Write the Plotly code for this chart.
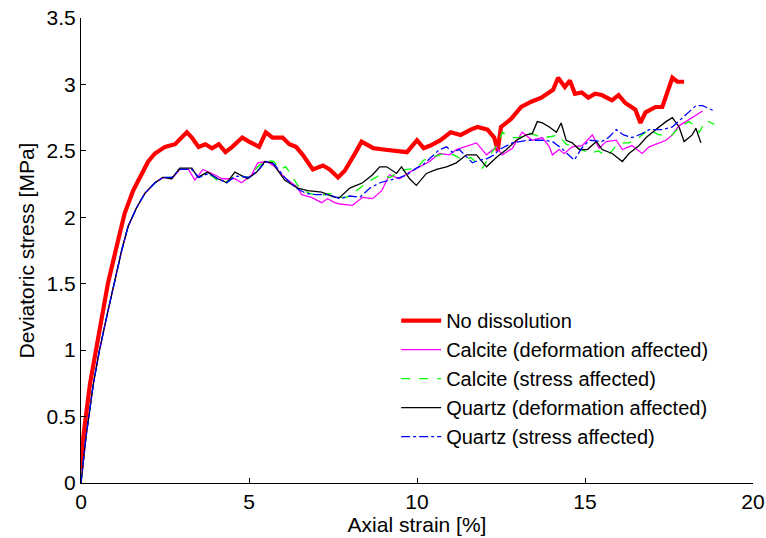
import plotly.graph_objects as go

# ---------------- data ----------------
red_x = [0, 0.07, 0.27, 0.45, 0.61, 0.8, 1.06, 1.3, 1.55, 1.81, 2.0, 2.2, 2.5, 2.8, 3.0, 3.15, 3.3, 3.5,
         3.7, 3.9, 4.1, 4.3, 4.5, 4.8, 5.0, 5.3, 5.5, 5.7, 6.0, 6.2, 6.4, 6.6, 6.9, 7.2, 7.4, 7.65, 7.85,
         8.0, 8.2, 8.35, 8.7, 9.0, 9.3, 9.7, 10.0, 10.2, 10.4, 10.7, 11.0, 11.3, 11.6, 11.8, 12.1, 12.3,
         12.4, 12.5, 12.6, 12.8, 13.1, 13.4, 13.7, 13.9, 14.05, 14.2, 14.4, 14.55, 14.7, 14.9, 15.1, 15.3,
         15.5, 15.8, 16.0, 16.2, 16.5, 16.65, 16.8, 17.1, 17.3, 17.45, 17.6, 17.75, 17.95]
red_y = [0.1, 0.35, 0.75, 1.02, 1.25, 1.5, 1.78, 2.03, 2.2, 2.32, 2.42, 2.48, 2.53, 2.55, 2.6, 2.64, 2.6, 2.53,
         2.55, 2.52, 2.55, 2.49, 2.53, 2.6, 2.57, 2.53, 2.64, 2.6, 2.6, 2.55, 2.53, 2.47, 2.36, 2.39, 2.36, 2.30, 2.35,
         2.41, 2.5, 2.57, 2.52, 2.51, 2.50, 2.49, 2.58, 2.52, 2.54, 2.58, 2.64, 2.62, 2.66, 2.68, 2.66, 2.60,
         2.50, 2.68, 2.70, 2.74, 2.83, 2.87, 2.9, 2.93, 2.96, 3.05, 2.98, 3.03, 2.93, 2.94, 2.9, 2.93,
         2.92, 2.88, 2.92, 2.86, 2.81, 2.71, 2.79, 2.83, 2.83, 2.94, 3.05, 3.02, 3.02]

calcite_def_x = [0, 0.15, 0.37, 0.55, 0.78, 1.0, 1.21, 1.4, 1.65, 1.9, 2.2, 2.44, 2.7, 2.94, 3.2, 3.39, 3.63,
                 3.98, 4.19, 4.58, 4.78, 5.08, 5.26, 5.53, 5.77, 6.06, 6.42, 6.57, 6.86, 7.16, 7.34, 7.55, 7.7,
                 8.08, 8.38, 8.68, 8.95, 9.18, 9.48, 9.78, 10.07, 10.37, 10.67, 10.97, 11.17, 11.56, 11.77,
                 12.07, 12.36, 12.54, 12.84, 13.13, 13.43, 13.73, 13.94, 14.03, 14.23, 14.38, 14.62, 14.92,
                 15.22, 15.42, 15.63, 15.93, 16.11, 16.4, 16.7, 16.91, 17.2, 17.41, 17.6, 17.8, 18.0, 18.19,
                 18.4, 18.5]
calcite_def_y = [0, 0.35, 0.75, 1.0, 1.27, 1.52, 1.75, 1.93, 2.07, 2.18, 2.26, 2.3, 2.29, 2.36, 2.36, 2.28, 2.36,
                 2.32, 2.29, 2.29, 2.26, 2.32, 2.41, 2.42, 2.38, 2.3, 2.23, 2.17, 2.15, 2.11, 2.14, 2.11, 2.1,
                 2.09, 2.15, 2.14, 2.2, 2.32, 2.29, 2.34, 2.38, 2.42, 2.48, 2.47, 2.51, 2.54, 2.56,
                 2.47, 2.53, 2.47, 2.52, 2.64, 2.58, 2.6, 2.53, 2.47, 2.51, 2.48, 2.53, 2.54,
                 2.62, 2.52, 2.57, 2.58, 2.51, 2.54, 2.48, 2.53, 2.56, 2.58, 2.62, 2.69, 2.72, 2.75,
                 2.78, 2.8]

calcite_str_x = [0, 0.15, 0.37, 0.55, 0.78, 1.0, 1.21, 1.4, 1.65, 1.9, 2.2, 2.44, 2.7, 2.94, 3.3, 3.5, 3.8,
                 4.1, 4.4, 4.6, 5.0, 5.26, 5.5, 5.75, 5.9, 6.1, 6.3, 6.5, 6.8, 7.1, 7.4, 7.7, 7.9, 8.2, 8.5,
                 8.9, 9.2, 9.5, 9.7, 10.0, 10.2, 10.47, 10.8, 11.1, 11.36, 11.6, 11.95, 12.2, 12.4, 12.54,
                 12.84, 13.05, 13.3, 13.5, 13.8, 14.03, 14.2, 14.44, 14.8, 15.13, 15.4, 15.63, 15.8, 16.0,
                 16.31, 16.6, 16.9, 17.2, 17.6, 17.8, 18.1, 18.3, 18.4, 18.6, 18.85]
calcite_str_y = [0, 0.35, 0.75, 1.0, 1.27, 1.52, 1.75, 1.93, 2.07, 2.18, 2.26, 2.3, 2.3, 2.36, 2.36, 2.3, 2.33,
                 2.27, 2.27, 2.32, 2.3, 2.38, 2.43, 2.42, 2.36, 2.38, 2.3, 2.22, 2.18, 2.16, 2.18, 2.15, 2.15, 2.2, 2.26,
                 2.32, 2.3, 2.35, 2.36, 2.37, 2.43, 2.45, 2.48, 2.47, 2.43, 2.45, 2.37, 2.48, 2.55, 2.64,
                 2.6, 2.6, 2.64, 2.62, 2.6, 2.61, 2.62, 2.55, 2.52, 2.48, 2.5, 2.46, 2.5, 2.56,
                 2.56, 2.6, 2.66, 2.62, 2.62, 2.68, 2.72, 2.68, 2.64, 2.73, 2.7]

quartz_def_x = [0, 0.15, 0.37, 0.55, 0.78, 1.0, 1.21, 1.4, 1.65, 1.9, 2.2, 2.44, 2.7, 2.94, 3.3, 3.48, 3.77,
                4.07, 4.34, 4.58, 4.96, 5.23, 5.47, 5.7, 6.06, 6.45, 6.75, 7.16, 7.55, 7.7, 8.0, 8.38, 8.68,
                8.89, 9.1, 9.39, 9.54, 9.78, 9.98, 10.28, 10.58, 10.88, 11.17, 11.47, 11.77, 12.07, 12.36,
                12.66, 12.96, 13.25, 13.43, 13.58, 13.73, 13.94, 14.15, 14.29, 14.44, 14.62, 14.83, 15.07,
                15.34, 15.51, 15.81, 16.11, 16.31, 16.61, 16.82, 17.11, 17.41, 17.6, 17.8, 17.95, 18.19,
                18.3, 18.45]
quartz_def_y = [0, 0.35, 0.75, 1.0, 1.27, 1.52, 1.75, 1.93, 2.07, 2.18, 2.26, 2.3, 2.29, 2.37, 2.37, 2.3, 2.34,
                2.29, 2.26, 2.34, 2.29, 2.34, 2.42, 2.41, 2.28, 2.22, 2.2, 2.19, 2.15, 2.15, 2.22, 2.26, 2.32,
                2.38, 2.38, 2.33, 2.38, 2.29, 2.24, 2.33, 2.36, 2.38, 2.41, 2.47, 2.47, 2.38, 2.45,
                2.51, 2.58, 2.62, 2.63, 2.72, 2.71, 2.68, 2.64, 2.71, 2.58, 2.56, 2.51, 2.51,
                2.57, 2.51, 2.48, 2.42, 2.48, 2.54, 2.6, 2.66, 2.72, 2.75, 2.68, 2.57, 2.62,
                2.67, 2.56]

quartz_str_x = [0, 0.15, 0.37, 0.55, 0.78, 1.0, 1.21, 1.4, 1.65, 1.9, 2.2, 2.44, 2.7, 2.94, 3.3, 3.5, 3.8,
                4.07, 4.34, 4.6, 5.0, 5.3, 5.5, 5.75, 6.06, 6.4, 6.7, 7.0, 7.4, 7.7, 8.0, 8.3, 8.6, 8.9, 9.2,
                9.5, 9.7, 9.98, 10.2, 10.45, 10.67, 10.88, 11.05, 11.26, 11.45, 11.65, 11.85, 12.07, 12.3,
                12.45, 12.84, 13.1, 13.3, 13.8, 14.03, 14.3, 14.5, 14.68, 14.9, 15.13, 15.5, 15.7, 15.93,
                16.15, 16.4, 16.7, 16.91, 17.3, 17.6, 17.9, 18.1, 18.3, 18.5, 18.7, 18.85]
quartz_str_y = [0, 0.35, 0.75, 1.0, 1.27, 1.52, 1.75, 1.93, 2.07, 2.18, 2.26, 2.3, 2.3, 2.36, 2.36, 2.3, 2.33,
                2.29, 2.26, 2.31, 2.3, 2.36, 2.42, 2.4, 2.3, 2.22, 2.18, 2.17, 2.17, 2.14, 2.16, 2.15, 2.22, 2.26, 2.28,
                2.3, 2.32, 2.37, 2.4, 2.46, 2.51, 2.53, 2.49, 2.51, 2.46, 2.41, 2.43, 2.44, 2.47,
                2.51, 2.56, 2.57, 2.58, 2.58, 2.57, 2.52, 2.47, 2.43, 2.52, 2.58, 2.57, 2.6, 2.66,
                2.62, 2.6, 2.63, 2.66, 2.66, 2.68, 2.75, 2.8, 2.84, 2.84, 2.82, 2.8]

x_ticks = [0, 5, 10, 15, 20]
y_ticks = [0, 0.5, 1, 1.5, 2, 2.5, 3, 3.5]
y_tick_labels = ["0", "0.5", "1", "1.5", "2", "2.5", "3", "3.5"]

series = [
    ("No dissolution", red_x, red_y, dict(color="#ff0000", width=4.2, dash="solid")),
    ("Calcite (deformation affected)", calcite_def_x, calcite_def_y, dict(color="#ff00ff", width=1.3, dash="solid")),
    ("Calcite (stress affected)", calcite_str_x, calcite_str_y, dict(color="#00ff00", width=1.3, dash="dash")),
    ("Quartz (deformation affected)", quartz_def_x, quartz_def_y, dict(color="#000000", width=1.3, dash="solid")),
    ("Quartz (stress affected)", quartz_str_x, quartz_str_y, dict(color="#0000ff", width=1.3, dash="dashdot")),
]

FONT = "Liberation Sans, Arial, Helvetica, sans-serif"

fig = go.Figure()
for name, xs, ys, line in series:
    assert len(xs) == len(ys), name
    fig.add_trace(go.Scatter(x=xs, y=ys, mode="lines", name=name, line=line))

axis_common = dict(
    showline=True, linecolor="#000000", linewidth=1,
    ticks="inside", ticklen=5, tickcolor="#000000", tickwidth=1,
    showgrid=False, zeroline=False, mirror=False, automargin=False,
    tickfont=dict(family=FONT, size=21, color="#000000"),
)

fig.update_layout(
    width=766, height=538, autosize=False,
    margin=dict(l=81, r=13, t=18, b=55),
    paper_bgcolor="white", plot_bgcolor="white",
    font=dict(family=FONT, color="#000000"),
    xaxis=dict(range=[0, 20], tickvals=x_ticks, ticktext=[str(v) for v in x_ticks],
               title=dict(text="Axial strain [%]", font=dict(family=FONT, size=21), standoff=1),
               **axis_common),
    yaxis=dict(range=[0, 3.5], tickvals=y_ticks, ticktext=y_tick_labels,
               title=dict(text="Deviatoric stress [MPa]", font=dict(family=FONT, size=21), standoff=6),
               **axis_common),
    legend=dict(x=0.469, y=0.391, xanchor="left", yanchor="top",
                bgcolor="rgba(255,255,255,0)", borderwidth=0,
                font=dict(family=FONT, size=20, color="#000000"),
                tracegroupgap=0, itemwidth=40),
    showlegend=True,
)

fig.write_html("out.html", config={"displayModeBar": False},
               post_script="document.body.style.margin='0px';")
